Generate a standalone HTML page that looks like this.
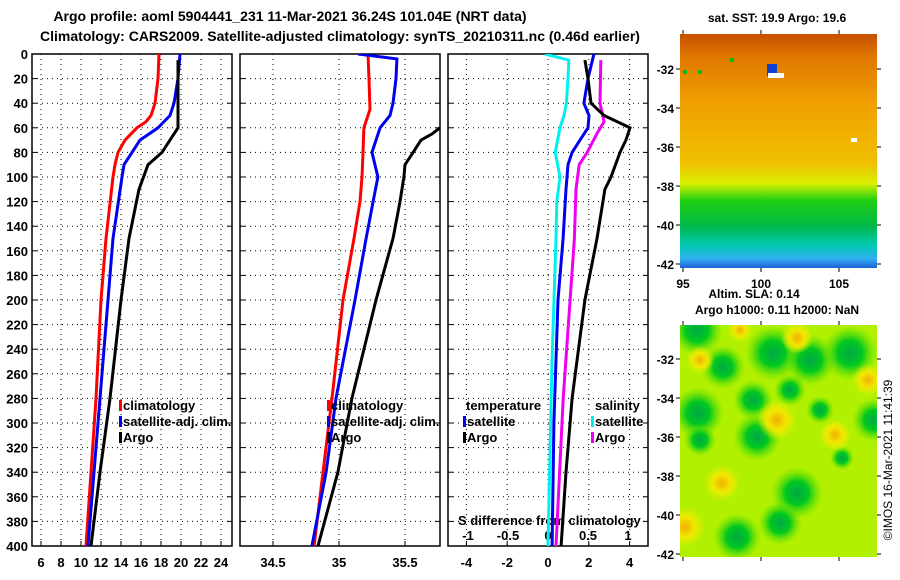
<!DOCTYPE html>
<html><head><meta charset="utf-8"><style>
body{margin:0;background:#fff;}
svg{display:block;font-family:"Liberation Sans",sans-serif;font-weight:bold;}
</style></head><body>
<svg id="c" width="900" height="580" viewBox="0 0 900 580">
<defs>
<linearGradient id="sst" x1="0" y1="0" x2="0" y2="1">
<stop offset="0" stop-color="#c85000"/><stop offset="0.1" stop-color="#e07800"/><stop offset="0.3" stop-color="#f0a000"/>
<stop offset="0.55" stop-color="#f0c000"/><stop offset="0.64" stop-color="#d8f000"/><stop offset="0.71" stop-color="#20d010"/>
<stop offset="0.82" stop-color="#00b848"/><stop offset="0.9" stop-color="#00c8b0"/><stop offset="0.96" stop-color="#30b0f0"/><stop offset="1" stop-color="#2060d8"/>
</linearGradient>
<radialGradient id="gb"><stop offset="0" stop-color="#00a848"/><stop offset="0.45" stop-color="#00c820"/><stop offset="1" stop-color="#60e000" stop-opacity="0"/></radialGradient>
<radialGradient id="ob"><stop offset="0" stop-color="#f0b000"/><stop offset="0.5" stop-color="#f0e800"/><stop offset="1" stop-color="#f0f000" stop-opacity="0"/></radialGradient>
<clipPath id="cp1"><rect x="32" y="54" width="200" height="492"/></clipPath>
<clipPath id="cp2"><rect x="240" y="54" width="200" height="492"/></clipPath>
<clipPath id="cp3"><rect x="448" y="54" width="200" height="492"/></clipPath>
<clipPath id="cpm"><rect x="680" y="325" width="197" height="232"/></clipPath>
</defs>
<text x="290" y="21" font-size="14" text-anchor="middle">Argo profile: aoml 5904441_231 11-Mar-2021 36.24S 101.04E (NRT data)</text>
<text x="340" y="41" font-size="14" text-anchor="middle">Climatology: CARS2009. Satellite-adjusted climatology: synTS_20210311.nc (0.46d earlier)</text>
<g id="g"></g>
<g>
<rect x="680" y="34" width="197" height="234" fill="url(#sst)"/>
<rect x="767" y="64" width="10" height="12" fill="#1040d0"/><rect x="768" y="73" width="16" height="5" fill="#fff"/>
<rect x="851" y="138" width="6" height="4" fill="#fff"/>
<rect x="683" y="70" width="4" height="4" fill="#00c020"/><rect x="698" y="70" width="4" height="4" fill="#00c020"/><rect x="730" y="58" width="4" height="4" fill="#00c020"/>
<text x="777" y="22" font-size="12" text-anchor="middle">sat. SST: 19.9 Argo: 19.6</text>
</g>
<g>
<rect x="680" y="325" width="197" height="232" fill="#b0f000"/>
<g id="blobs" clip-path="url(#cpm)"></g>
<text x="754" y="298" font-size="12" text-anchor="middle">Altim. SLA: 0.14</text>
<text x="777" y="314" font-size="12" text-anchor="middle">Argo h1000: 0.11 h2000: NaN</text>
</g>
<text transform="translate(892,460) rotate(-90)" font-size="12" font-weight="normal" text-anchor="middle">©IMOS 16-Mar-2021 11:41:39</text>
</svg>
<script>
const depthTicks=[0,20,40,60,80,100,120,140,160,180,200,220,240,260,280,300,320,340,360,380,400];
const tTicks=[6,8,10,12,14,16,18,20,22,24];
const sTicks=[34.5,35,35.5];
const dTTicks=[-4,-2,0,2,4];
const dSTicks=[-1,-0.5,0,0.5,1];
const climD=[0,20,40,50,55,60,70,80,90,100,150,200,280,340,400];
const climT=[17.8,17.7,17.4,17.0,16.5,15.6,14.4,13.7,13.4,13.2,12.5,12.0,11.5,11.0,10.5];
const satD=[0,20,40,50,60,70,80,90,100,150,200,280,340,400];
const satT=[19.9,19.7,19.3,18.9,17.7,15.9,15.1,14.3,14.1,13.2,12.7,11.9,11.3,10.7];
const argoD=[5,60,70,80,90,110,150,200,280,340,400];
const argoT=[19.7,19.7,18.9,18.1,16.7,15.8,14.8,14.0,12.9,11.9,11.0];
const climSD=[0,20,45,60,80,100,120,150,200,280,340,400];
const climS=[35.22,35.227,35.235,35.189,35.182,35.174,35.159,35.114,35.03,34.947,34.879,34.811];
const satSD=[0,4,20,40,50,60,70,80,100,120,150,200,280,340,400];
const satS=[35.144,35.439,35.432,35.409,35.386,35.311,35.28,35.25,35.295,35.258,35.205,35.121,34.977,34.902,34.795];
const argoSD=[50,60,65,70,80,90,100,120,150,200,280,340,400];
const argoS=[35.9,35.765,35.705,35.621,35.561,35.5,35.492,35.462,35.409,35.28,35.098,34.992,34.841];
const dSatTD=[0,20,40,50,60,70,80,90,110,150,200,300,400];
const dSatT=[2.25,1.96,1.76,2.01,1.96,1.57,1.18,0.98,0.88,0.74,0.49,0.29,0.2];
const dArgoTD=[5,20,40,50,60,70,80,100,110,150,200,280,340,400];
const dArgoT=[1.81,1.96,2.11,2.75,4.02,3.82,3.53,3.09,2.79,2.4,1.81,1.18,0.88,0.64];
const dSatSD=[0,5,20,40,50,60,80,100,120,150,250,400];
const dSatS=[-0.04,0.26,0.25,0.23,0.2,0.15,0.09,0.15,0.11,0.1,0.05,0.0];
const dArgoSD=[5,40,55,65,80,90,110,150,280,400];
const dArgoS=[0.66,0.65,0.7,0.61,0.49,0.39,0.35,0.33,0.19,0.1];

const NS='http://www.w3.org/2000/svg';
const G=document.getElementById('g');
function mk(tag,attrs,parent){const e=document.createElementNS(NS,tag);for(const k in attrs)e.setAttribute(k,attrs[k]);(parent||G).appendChild(e);return e;}
const yD=d=>54+d*1.23;
const xT=v=>41+(v-6)*10;
const xS=v=>339+(v-35)*132;
const xDT=v=>548+v*20.4;
const xDS=v=>548+v*80;
const panels=[[32,'panel-temperature'],[240,'panel-salinity'],[448,'panel-difference']];
panels.forEach(([x0,nm])=>{
  const r=mk('rect',{x:x0,y:54,width:200,height:492,fill:'none',stroke:'#000','stroke-width':1.5});
  
  
  depthTicks.forEach(d=>{
    if(d>0&&d<400){const l=mk('line',{x1:x0,x2:x0+200,y1:yD(d),y2:yD(d),stroke:'#000','stroke-dasharray':'1,4'});
    
    }
    mk('line',{x1:x0,x2:x0+5,y1:yD(d),y2:yD(d),stroke:'#000'});
    mk('line',{x1:x0+195,x2:x0+200,y1:yD(d),y2:yD(d),stroke:'#000'});
  });
});
depthTicks.forEach(d=>{const t=mk('text',{x:28,y:yD(d)+5,'font-size':13,'text-anchor':'end'});t.textContent=d;

});
function vgrid(ticks,fx,labelY,nm){ticks.forEach(v=>{const x=fx(v);
  const l=mk('line',{x1:x,x2:x,y1:54,y2:546,stroke:'#000','stroke-dasharray':'1,4'});
  
  
  mk('line',{x1:x,x2:x,y1:541,y2:546,stroke:'#000'});
  const t=mk('text',{x:x,y:labelY,'font-size':13,'text-anchor':'middle'});t.textContent=v;
  
  });}
vgrid(tTicks,xT,567,'temperature');
vgrid(sTicks,xS,567,'salinity');
vgrid(dTTicks,xDT,567,'temp-diff');
dSTicks.forEach(v=>{const t=mk('text',{x:xDS(v),y:540,'font-size':13,'text-anchor':'middle'});t.textContent=v;

});
const st=mk('text',{x:458,y:525,'font-size':13});st.textContent='S difference from climatology';


function line(ds,vs,fx,col,clip,nm){const p=ds.map((d,i)=>fx(vs[i]).toFixed(1)+','+yD(d).toFixed(1)).join(' ');
  const e=mk('polyline',{points:p,fill:'none',stroke:col,'stroke-width':3,'clip-path':'url(#'+clip+')'});
  
  }
line(climD,climT,xT,'#f00','cp1','climatology-temperature-line');
line(satD,satT,xT,'#0000f0','cp1','satellite-temperature-line');
line(argoD,argoT,xT,'#000','cp1','argo-temperature-line');
line(climSD,climS,xS,'#f00','cp2','climatology-salinity-line');
line(satSD,satS,xS,'#0000f0','cp2','satellite-salinity-line');
line(argoSD,argoS,xS,'#000','cp2','argo-salinity-line');
line(dSatSD,dSatS,xDS,'#00f0f0','cp3','satellite-sal-diff-line');
line(dSatTD,dSatT,xDT,'#0000f0','cp3','satellite-temp-diff-line');
line(dArgoSD,dArgoS,xDS,'#f000f0','cp3','argo-sal-diff-line');
line(dArgoTD,dArgoT,xDT,'#000','cp3','argo-temp-diff-line');
function leg(x,y,col,txt){if(col)mk('rect',{x:x,y:y-10,width:3,height:11,fill:col});
  const t=mk('text',{x:x+(col?4:0),y:y,'font-size':13});t.textContent=txt;
  
  }
leg(119,410,'#f00','climatology');leg(119,426,'#0000f0','satellite-adj. clim.');leg(119,442,'#000','Argo');
leg(327,410,'#f00','climatology');leg(327,426,'#0000f0','satellite-adj. clim.');leg(327,442,'#000','Argo');
leg(466,410,null,'temperature');leg(463,426,'#0000f0','satellite');leg(463,442,'#000','Argo');
leg(595,410,null,'salinity');leg(591,426,'#00f0f0','satellite');leg(591,442,'#f000f0','Argo');
function mapAxes(y0,y32,nm){for(let i=0;i<6;i++){const y=y32+i*39;
  const t=mk('text',{x:674,y:y+5,'font-size':12,'text-anchor':'end'});t.textContent='-'+(32+2*i);
  
  
  mk('line',{x1:676,x2:680,y1:y,y2:y,stroke:'#000'});mk('line',{x1:877,x2:881,y1:y,y2:y,stroke:'#000'});}
  [683,761,839].forEach(x=>{mk('line',{x1:x,x2:x,y1:y0-4,y2:y0,stroke:'#000'});});}
mapAxes(34,69,'sst-map');mapAxes(325,359,'sla-map');
[[683,95],[761,100],[839,105]].forEach(([x,v])=>{mk('line',{x1:x,x2:x,y1:268,y2:272,stroke:'#000'});mk('line',{x1:x,x2:x,y1:557,y2:561,stroke:'#000'});
  const t=mk('text',{x:x,y:288,'font-size':12,'text-anchor':'middle'});t.textContent=v;
  
  });
const B=document.getElementById('blobs');
[[697,330,26],[773,353,28],[810,360,26],[850,353,28],[723,367,22],[698,413,26],[753,400,20],[757,437,24],[797,493,26],[780,523,22],[737,537,24],[874,420,22],[842,458,12],[790,390,16],[700,440,16],[820,410,14]].forEach(([x,y,r])=>mk('circle',{cx:x,cy:y,r:r,fill:'url(#gb)'},B));
[[797,338,16],[868,380,16],[777,420,20],[835,435,16],[685,527,20],[722,483,18],[740,330,12],[700,360,14]].forEach(([x,y,r])=>mk('circle',{cx:x,cy:y,r:r,fill:'url(#ob)'},B));
</script>
</body></html>
